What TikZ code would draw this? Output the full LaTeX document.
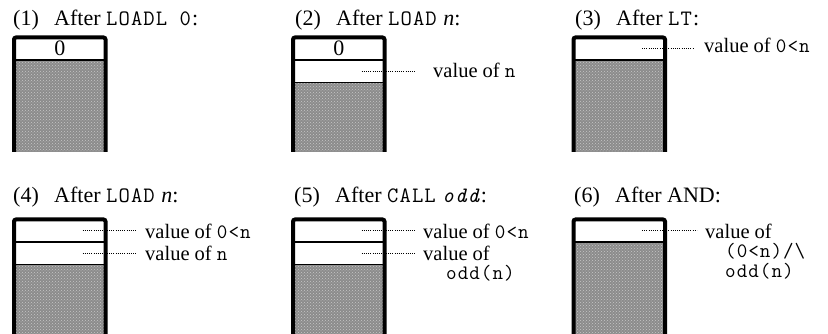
\documentclass[tikz,border=0pt]{standalone}
\usepackage{fontspec}
\setmainfont{Liberation Serif}
\setmonofont{Latin Modern Mono}[Scale=1.0, LetterSpace=5]
\usetikzlibrary{calc,patterns}
\newcommand\lblfont{\fontsize{20.5}{19.5}\selectfont\setlength{\lineskiplimit}{-100pt}}
\tikzset{
  stackbg/.style={anchor=north west, fill=black!45, minimum width=91.5pt, inner sep=0pt, outer sep=0pt,
    postaction={pattern=crosshatch dots, pattern color=black!22}},
  cell/.style={anchor=north west, draw, line width=1.5pt, fill=white, minimum width=91.5pt, minimum height=22.5pt, inner sep=0pt, outer sep=0pt, font=\fontsize{22}{26}\selectfont},
  frame/.style={line width=4pt, rounded corners=2pt},
  leader/.style={line width=0.9pt, dash pattern=on 0.9pt off 1.3pt},
  title/.style={anchor=base west, inner sep=0pt, font=\fontsize{22}{26}\selectfont},
  lbl/.style={anchor=base west, inner sep=0pt, align=left, font=\lblfont},
}
\newcommand\gapnum{\hspace{0.7em}}
\begin{document}
\begin{tikzpicture}[x=1pt,y=-1pt]
\useasboundingbox (0,0) rectangle (828,334);
% ---------- (1)
\node[title] (t1) at (13,26) {(1)\gapnum After \texttt{LOADL 0}:};
\node[stackbg, minimum height=114.5pt] (s1) at (14,37.5) {};
\node[cell] (c1a) at (s1.north west) {0};
\draw[frame] (s1.south west) -- (s1.north west) -- (s1.north east) -- (s1.south east);
% ---------- (2)
\node[title] (t2) at (295,26) {(2)\gapnum After \texttt{LOAD} \textit{n}:};
\node[stackbg, minimum height=114.5pt] (s2) at (293,37.5) {};
\node[cell] (c2a) at (s2.north west) {0};
\node[cell] (c2b) at (c2a.south west) {};
\node[lbl] (l2) at (433,78) {value of \texttt{n}};
\draw[leader] ([xshift=-23pt]c2b.east) -- ($(c2b.east -| l2.west)+(-18pt,0)$);
\draw[frame] (s2.south west) -- (s2.north west) -- (s2.north east) -- (s2.south east);
% ---------- (3)
\node[title] (t3) at (575,26) {(3)\gapnum After \texttt{LT}:};
\node[stackbg, minimum height=114.5pt] (s3) at (573.5,37.5) {};
\node[cell] (c3a) at (s3.north west) {};
\node[lbl] (l3) at (704,53) {value of \texttt{0<n}};
\draw[leader] ([xshift=-23pt]c3a.east) -- ($(c3a.east -| l3.west)+(-11pt,0)$);
\draw[frame] (s3.south west) -- (s3.north west) -- (s3.north east) -- (s3.south east);
% ---------- (4)
\node[title] (t4) at (13,203) {(4)\gapnum After \texttt{LOAD} \textit{n}:};
\node[stackbg, minimum height=115pt] (s4) at (14,219.5) {};
\node[cell] (c4a) at (s4.north west) {};
\node[cell] (c4b) at (c4a.south west) {};
\node[lbl] (l4a) at (145,238) {value of \texttt{0<n}};
\node[lbl] (l4b) at (145,260) {value of \texttt{n}};
\draw[leader] ([xshift=-23pt]c4a.east) -- ($(c4a.east -| l4a.west)+(-8pt,0)$);
\draw[leader] ([xshift=-23pt]c4b.east) -- ($(c4b.east -| l4b.west)+(-8pt,0)$);
\draw[frame] (s4.south west) -- (s4.north west) -- (s4.north east) -- (s4.south east);
% ---------- (5)
\node[title] (t5) at (294,203) {(5)\gapnum After \texttt{CALL} \texttt{\textit{odd}}:};
\node[stackbg, minimum height=115pt] (s5) at (293,219.5) {};
\node[cell] (c5a) at (s5.north west) {};
\node[cell] (c5b) at (c5a.south west) {};
\node[lbl] (l5a) at (423,238) {value of \texttt{0<n}};
\node[lbl] (l5b) at (423,279.5) {value of\\\hspace*{23pt}\texttt{odd(n)}};
\draw[leader] ([xshift=-23pt]c5a.east) -- ($(c5a.east -| l5a.west)+(-7pt,0)$);
\draw[leader] ([xshift=-23pt]c5b.east) -- ($(c5b.east -| l5a.west)+(-7pt,0)$);
\draw[frame] (s5.south west) -- (s5.north west) -- (s5.north east) -- (s5.south east);
% ---------- (6)
\node[title] (t6) at (574,203) {(6)\gapnum After AND:};
\node[stackbg, minimum height=115pt] (s6) at (573.5,219.5) {};
\node[cell] (c6a) at (s6.north west) {};
\node[lbl] (l6) at (705,277) {value of\\\hspace*{20pt}\texttt{(0<n)/\textbackslash}\\\hspace*{20pt}\texttt{odd(n)}};
\draw[leader] ([xshift=-23pt]c6a.east) -- ($(c6a.east -| l6.west)+(-8pt,0)$);
\draw[frame] (s6.south west) -- (s6.north west) -- (s6.north east) -- (s6.south east);
\end{tikzpicture}
\end{document}
